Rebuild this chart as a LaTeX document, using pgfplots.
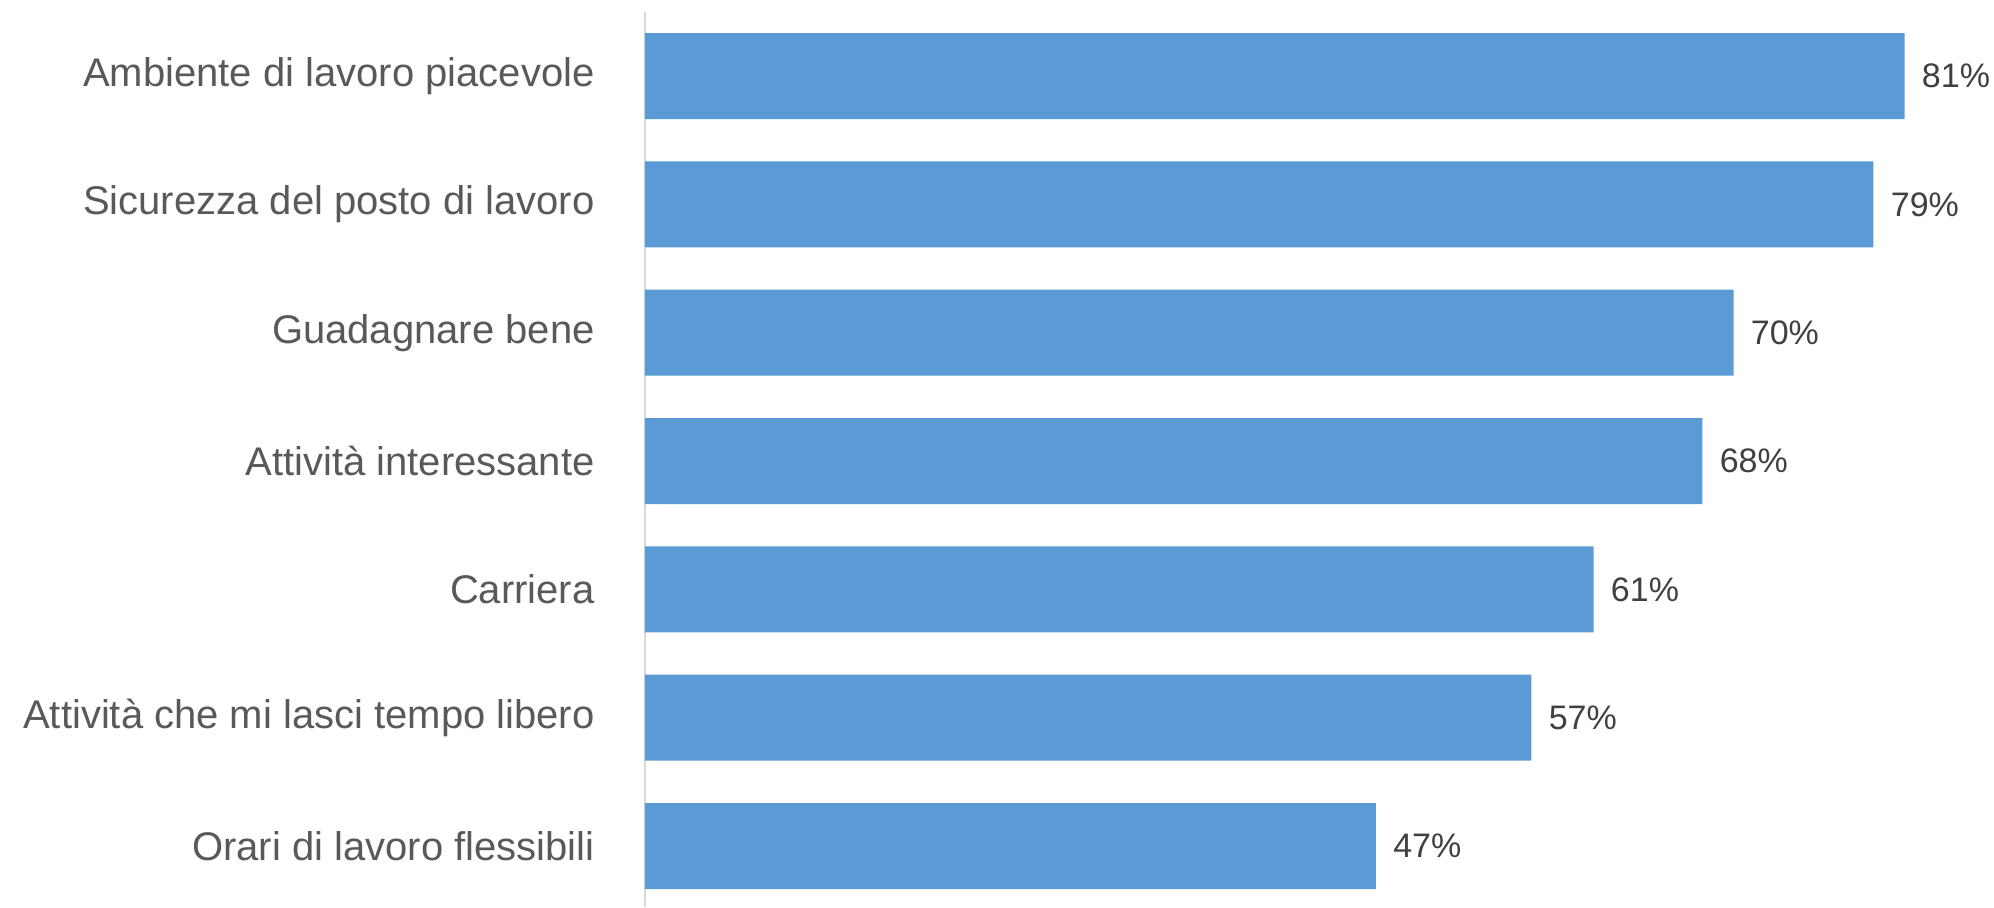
\documentclass[border=0pt]{standalone}
\usepackage{pgfplots}
\pgfplotsset{compat=1.18}
\usepackage{fontspec}
\setmainfont{Liberation Sans}
\definecolor{barblue}{HTML}{5B9BD5}
\definecolor{axisgray}{HTML}{D9D9D9}
\definecolor{labelgray}{HTML}{595959}
\definecolor{valgray}{HTML}{404040}
\begin{document}
\begin{tikzpicture}
\begin{axis}[
    scale only axis,
    width=660.9pt, height=447.5pt,
    xbar, bar width=43pt,
    xmin=0, xmax=85,
    ymin=-0.4987, ymax=6.475, y dir=reverse,
    axis x line=none,
    axis y line*=left,
    y axis line style={draw=axisgray, line width=1pt, -},
    ytick={0,...,6},
    yticklabels={Ambiente di lavoro piacevole, Sicurezza del posto di lavoro,
        Guadagnare bene, Attività interessante, Carriera,
        Attività che mi lasci tempo libero, Orari di lavoro flessibili},
    major tick length=0pt,
    yticklabel style={font=\fontsize{20}{24}\selectfont, text=labelgray,
        inner sep=0pt, xshift=-25pt},
    nodes near coords={\pgfmathprintnumber[assume math mode=true]{\pgfplotspointmeta}\%},
    every node near coord/.append style={font=\fontsize{17}{20}\selectfont,
        text=valgray, anchor=west, inner sep=0pt, xshift=8.5pt},
]
\addplot[fill=barblue, draw=none] coordinates {
    (81,0) (79,1) (70,2) (68,3) (61,4) (57,5) (47,6)};
\end{axis}
\pgfresetboundingbox
\path (-322.5pt,0pt) rectangle (674.5pt,453.5pt);
\end{tikzpicture}
\end{document}
